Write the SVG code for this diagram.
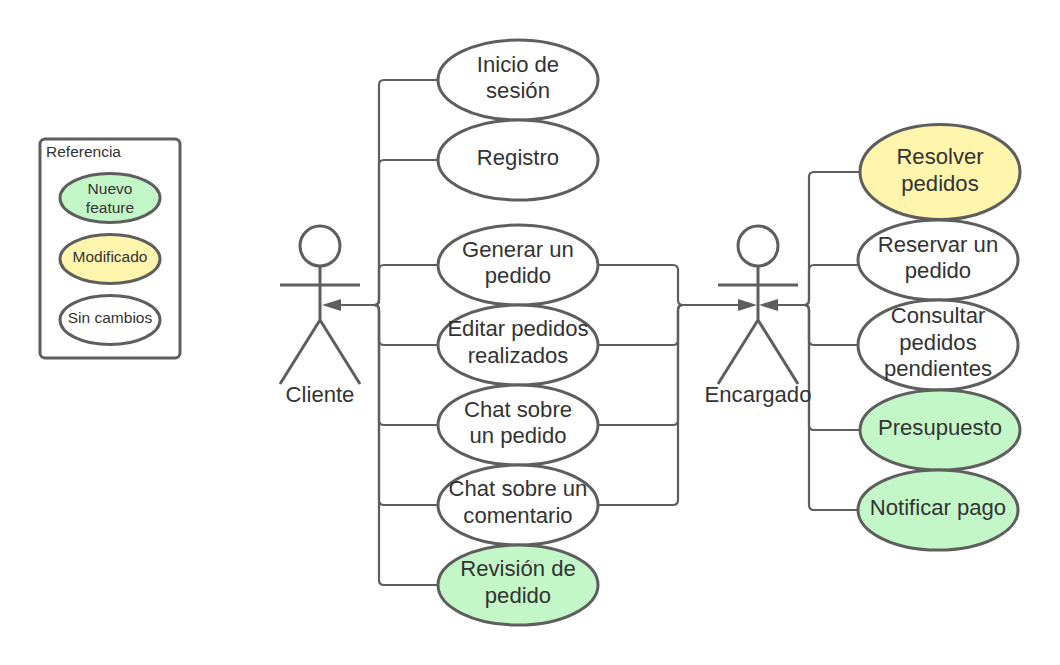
<svg xmlns="http://www.w3.org/2000/svg" width="1060" height="665" viewBox="0 0 1060 665">
<style>
.b{fill:#fff;stroke:#5e5e5e;stroke-width:3}
.g{fill:#c3f7c8;stroke:#5e5e5e;stroke-width:3}
.y{fill:#fff5ad;stroke:#5e5e5e;stroke-width:3}
.l{fill:none;stroke:#5e5e5e;stroke-width:2.200}
.a{fill:none;stroke:#5e5e5e;stroke-width:3}
.h{fill:#5e5e5e}
text{font-family:"Liberation Sans",Arial,sans-serif;fill:#333;text-anchor:middle}
.t{font-size:22.100px}
.s{font-size:15.500px}
</style>
<rect width="1060" height="665" fill="#fff"/>
<g id="connectors">
<path class="l" d="M438 80H384Q379 80 379 85V300Q379 305 374 305H340"/>
<path class="l" d="M438 160H384Q379 160 379 165V300Q379 305 374 305H340"/>
<path class="l" d="M438 265H384Q379 265 379 270V300Q379 305 374 305H340"/>
<path class="l" d="M438 345H384Q379 345 379 340V310Q379 305 374 305H340"/>
<path class="l" d="M438 425H384Q379 425 379 420V310Q379 305 374 305H340"/>
<path class="l" d="M438 505H384Q379 505 379 500V310Q379 305 374 305H340"/>
<path class="l" d="M438 585H384Q379 585 379 580V310Q379 305 374 305H340"/>
<path class="l" d="M598 265H673Q678 265 678 270V300Q678 305 683 305H739"/>
<path class="l" d="M598 345H673Q678 345 678 340V310Q678 305 683 305H739"/>
<path class="l" d="M598 425H673Q678 425 678 420V310Q678 305 683 305H739"/>
<path class="l" d="M598 505H673Q678 505 678 500V310Q678 305 683 305H739"/>
<path class="l" d="M860 172H814Q809 172 809 177V300Q809 305 804 305H777"/>
<path class="l" d="M858 265H814Q809 265 809 270V300Q809 305 804 305H777"/>
<path class="l" d="M858 345H814Q809 345 809 340V310Q809 305 804 305H777"/>
<path class="l" d="M860 430H814Q809 430 809 425V310Q809 305 804 305H777"/>
<path class="l" d="M858 510H814Q809 510 809 505V310Q809 305 804 305H777"/>
<path class="h" d="M322 305L341 299V311Z"/>
<path class="h" d="M757 305L738 299V311Z"/>
<path class="h" d="M759 305L778 299V311Z"/>
</g>
<g id="legend">
<rect x="40" y="139" width="140" height="219" rx="5" fill="#fff" stroke="#5e5e5e" stroke-width="3"/>
<text class="s" x="83.500" y="157">Referencia</text>
</g>
<g id="legend-nuevo"><ellipse class="g" cx="110" cy="198" rx="50" ry="24.500"/><text class="s" x="110" y="194">Nuevo</text><text class="s" x="110" y="213">feature</text></g>
<g id="legend-modificado"><ellipse class="y" cx="110" cy="259" rx="50" ry="24.500"/><text class="s" x="110" y="262">Modificado</text></g>
<g id="legend-sin"><ellipse class="b" cx="110" cy="320" rx="50" ry="24.500"/><text class="s" x="110" y="323">Sin cambios</text></g>
<g id="cliente">
<circle class="a" cx="320" cy="246" r="20"/>
<path class="a" d="M320 266V320M280 285H360M320 320L280 384M320 320L360 384"/>
<text class="t" x="320" y="402">Cliente</text>
</g>
<g id="encargado">
<circle class="a" cx="758" cy="246" r="20"/>
<path class="a" d="M758 266V320M718 285H798M758 320L718 384M758 320L798 384"/>
<text class="t" x="758" y="402">Encargado</text>
</g>
<g id="inicio"><ellipse class="b" cx="518" cy="80" rx="80" ry="40"/><text class="t" x="518" y="72">Inicio de</text><text class="t" x="518" y="98">sesión</text></g>
<g id="registro"><ellipse class="b" cx="518" cy="160" rx="80" ry="40"/><text class="t" x="518" y="165">Registro</text></g>
<g id="generar"><ellipse class="b" cx="518" cy="265" rx="80" ry="40"/><text class="t" x="518" y="257">Generar un</text><text class="t" x="518" y="283">pedido</text></g>
<g id="editar"><ellipse class="b" cx="518" cy="345" rx="80" ry="40"/><text class="t" x="518" y="336">Editar pedidos</text><text class="t" x="518" y="363">realizados</text></g>
<g id="chat-pedido"><ellipse class="b" cx="518" cy="425" rx="80" ry="40"/><text class="t" x="518" y="417">Chat sobre</text><text class="t" x="518" y="443">un pedido</text></g>
<g id="chat-comentario"><ellipse class="b" cx="518" cy="505" rx="80" ry="40"/><text class="t" x="518" y="496">Chat sobre un</text><text class="t" x="518" y="523">comentario</text></g>
<g id="revision"><ellipse class="g" cx="518" cy="585" rx="80" ry="40"/><text class="t" x="518" y="576">Revisión de</text><text class="t" x="518" y="603">pedido</text></g>
<g id="resolver"><ellipse class="y" cx="940" cy="172" rx="80" ry="47.500"/><text class="t" x="940" y="164">Resolver</text><text class="t" x="940" y="191">pedidos</text></g>
<g id="reservar"><ellipse class="b" cx="938" cy="260" rx="80" ry="40"/><text class="t" x="938" y="252">Reservar un</text><text class="t" x="938" y="278">pedido</text></g>
<g id="consultar"><ellipse class="b" cx="938" cy="345" rx="80" ry="45"/><text class="t" x="938" y="323">Consultar</text><text class="t" x="938" y="350">pedidos</text><text class="t" x="938" y="376">pendientes</text></g>
<g id="presupuesto"><ellipse class="g" cx="940" cy="430" rx="80" ry="40"/><text class="t" x="940" y="435">Presupuesto</text></g>
<g id="notificar"><ellipse class="g" cx="938" cy="510" rx="80" ry="40"/><text class="t" x="938" y="515">Notificar pago</text></g>
</svg>
